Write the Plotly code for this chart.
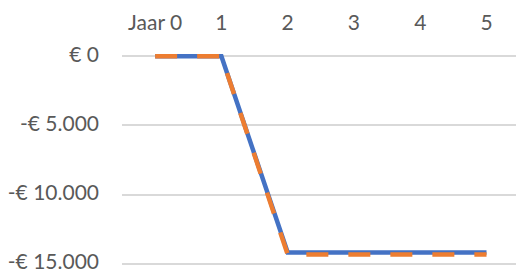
import plotly.graph_objects as go

categories = ["Jaar 0", "1", "2", "3", "4", "5"]
series_blue = [0, 0, -14175, -14175, -14175, -14175]
series_orange = [0, 0, -14330, -14330, -14330, -14330]
y_tickvals = [0, -5000, -10000, -15000]
y_ticktext = ["€ 0", "-€ 5.000", "-€ 10.000", "-€ 15.000"]

x = list(range(len(categories)))

fig = go.Figure()
fig.add_trace(go.Scatter(x=x, y=series_blue, mode="lines",
                         line=dict(color="#4472C4", width=4.5), showlegend=False))
fig.add_trace(go.Scatter(x=x, y=series_orange, mode="lines",
                         line=dict(color="#ED7D31", width=4.5, dash="22px,20px"), showlegend=False))

font = dict(family="Lato", size=21, color="#595959")
fig.update_layout(
    width=516, height=273,
    margin=dict(l=122, r=0, t=47.67, b=4.84),
    paper_bgcolor="white", plot_bgcolor="white",
    font=font,
    xaxis=dict(side="top", range=[-0.5, 5.445], tickvals=x, ticktext=categories,
               showgrid=False, zeroline=False, showline=False, ticks="",
               ticklabelstandoff=13, tickfont=font, automargin=False,
               ticklabeloverflow="allow"),
    yaxis=dict(range=[-15300, 600], tickvals=y_tickvals, ticktext=y_ticktext,
               showgrid=True, gridcolor="#d9d9d9", gridwidth=1.5, zeroline=False,
               showline=False, ticks="", ticklabelstandoff=22, ticklabelshift=-2,
               tickfont=font, automargin=False, ticklabeloverflow="allow"),
)
fig.write_html("out.html", config={"displayModeBar": False},
               post_script="document.body.style.margin='0';document.body.style.overflow='hidden';")
